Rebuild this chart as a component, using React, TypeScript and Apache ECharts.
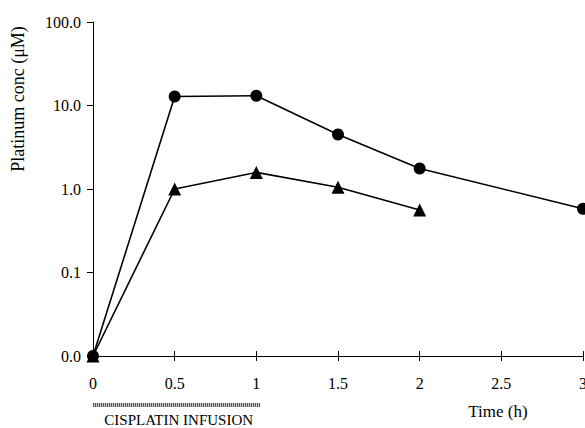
import React, { useEffect, useRef } from "react";
import * as echarts from "echarts";

const timeCircle = [0, 0.5, 1, 1.5, 2, 3];
const concCircle = [0.01, 12.8, 13.1, 4.5, 1.76, 0.58];
const timeTriangle = [0, 0.5, 1, 1.5, 2];
const concTriangle = [0.01, 1.0, 1.58, 1.05, 0.56];
const yTickLabels: Record<string, string> = { "0.01": "0.0", "0.1": "0.1", "1": "1.0", "10": "10.0", "100": "100.0" };
const infusion = [0, 1];

const FONT = "Liberation Serif, Times New Roman, serif";

export default function App() {
  const ref = useRef<HTMLDivElement>(null);
  useEffect(() => {
    document.body.style.margin = "0";
    const chart = echarts.init(ref.current!, null, { renderer: "svg" });
    const xBase = {
      type: "value" as const,
      min: 0,
      max: 3,
      interval: 0.5,
    };
    chart.setOption({
      animation: false,
      backgroundColor: "#fff",
      grid: { left: 93, right: 2, top: 22, bottom: 72, outerBoundsMode: "none", containLabel: false },
      xAxis: [
        {
          ...xBase,
          position: "bottom",
          axisLine: { show: true, lineStyle: { color: "#000", width: 1 } },
          axisTick: { show: true, length: 5, lineStyle: { color: "#000" } },
          axisLabel: { color: "#000", fontFamily: FONT, fontSize: 16, margin: 19 },
          splitLine: { show: false },
        },
        {
          ...xBase,
          position: "bottom",
          offset: 0,
          axisLine: { show: false },
          axisTick: { show: true, inside: true, length: 5, lineStyle: { color: "#000" } },
          axisLabel: { show: false },
          splitLine: { show: false },
        },
      ],
      yAxis: {
        type: "log",
        logBase: 10,
        min: 0.01,
        max: 100,
        axisLine: { show: true, lineStyle: { color: "#000", width: 1 } },
        axisTick: { show: true, length: 6, lineStyle: { color: "#000" } },
        axisLabel: {
          color: "#000",
          fontFamily: FONT,
          fontSize: 16,
          margin: 12,
          formatter: (v: number) => {
            const key = String(Number(v.toPrecision(3)));
            return yTickLabels[key] ?? v.toFixed(1);
          },
        },
        splitLine: { show: false },
        minorTick: { show: false },
      },
      series: [
        {
          type: "line",
          data: timeCircle.map((t, i) => [t, concCircle[i]]),
          symbol: "circle",
          symbolSize: 12,
          lineStyle: { color: "#000", width: 1.6 },
          itemStyle: { color: "#000" },
          z: 3,
        },
        {
          type: "line",
          data: timeTriangle.map((t, i) => [t, concTriangle[i]]),
          symbol: "triangle",
          symbolSize: 13,
          lineStyle: { color: "#000", width: 1.6 },
          itemStyle: { color: "#000" },
          z: 2,
        },
      ],
    });
    const x0 = chart.convertToPixel({ xAxisIndex: 0 }, infusion[0]);
    const x1 = chart.convertToPixel({ xAxisIndex: 0 }, infusion[1]);
    chart.setOption({
      graphic: [
        {
          type: "text",
          x: 18,
          y: 99,
          rotation: Math.PI / 2,
          style: {
            text: "Platinum conc (μM)",
            font: `18px ${FONT}`,
            fill: "#000",
            align: "center",
            verticalAlign: "middle",
          },
        },
        {
          type: "text",
          x: 498,
          y: 411,
          style: {
            text: "Time (h)",
            font: `17px ${FONT}`,
            fill: "#000",
            align: "center",
            verticalAlign: "middle",
          },
        },
        {
          type: "rect",
          shape: { x: x0, y: 403, width: x1 - x0 + 4, height: 4 },
          style: { fill: "#c8c8c8", stroke: null },
        },
        {
          type: "line",
          shape: { x1: x0, y1: 405, x2: x1 + 4, y2: 405 },
          style: { stroke: "#555", lineWidth: 4, lineDash: [1, 1] },
        },
        {
          type: "text",
          x: (x0 + x1) / 2 + 4,
          y: 420,
          style: {
            text: "CISPLATIN INFUSION",
            font: `15px ${FONT}`,
            fill: "#000",
            align: "center",
            verticalAlign: "middle",
          },
        },
      ],
    });
    return () => chart.dispose();
  }, []);
  return (
    <div
      ref={ref}
      style={{ position: "fixed", left: 0, top: 0, width: 585, height: 428 }}
    />
  );
}
